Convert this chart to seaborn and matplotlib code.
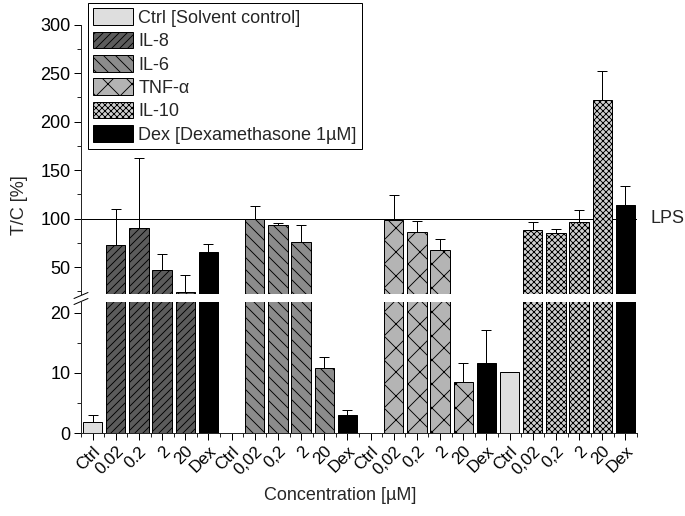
import matplotlib
matplotlib.use("Agg")
import matplotlib.pyplot as plt
import matplotlib.patches as mpatches
from matplotlib.ticker import MultipleLocator
import numpy as np
import pandas as pd
import seaborn as sns

# %%
groups = ["IL-8", "IL-6", "TNF-α", "IL-10"]
doses = ["Ctrl", "0.02", "0.2", "2", "20", "Dex"]
tick_labels = (
    ["Ctrl", "0.02", "0.2", "2", "20", "Dex"]
    + ["Ctrl", "0,02", "0,2", "2", "20", "Dex"] * 3
)

# mean T/C [%] per position (NaN = no bar)
il8_vals = [1.8, 72.5, 90.4, 46.8, 24.5, 65.3]
il6_vals = [np.nan, 99.3, 93.4, 75.6, 10.9, 2.95]
tnf_vals = [np.nan, 99.0, 86.3, 68.0, 8.5, 11.6]
il10_vals = [10.2, 88.0, 85.3, 96.2, 221.9, 113.9]

# top of the error bar
il8_err_top = [3.0, 110.0, 162.4, 63.7, 42.0, 73.3]
il6_err_top = [np.nan, 112.6, 95.9, 93.4, 12.6, 3.8]
tnf_err_top = [np.nan, 124.0, 97.0, 79.0, 11.7, 17.2]
il10_err_top = [np.nan, 96.2, 89.4, 108.9, 252.0, 133.5]

legend_labels = {
    "Ctrl": "Ctrl [Solvent control]",
    "IL-8": "IL-8",
    "IL-6": "IL-6",
    "TNF-α": "TNF-α",
    "IL-10": "IL-10",
    "Dex": "Dex [Dexamethasone 1µM]",
}
colors = {
    "Ctrl": "#dedede",
    "IL-8": "#5c5c5c",
    "IL-6": "#8c8c8c",
    "TNF-α": "#b4b4b4",
    "IL-10": "#d0d0d0",
    "Dex": "#000000",
}
hatches = {
    "Ctrl": "",
    "IL-8": "///",
    "IL-6": "\\\\",
    "TNF-α": "x",
    "IL-10": "xxxx",
    "Dex": "",
}

# %%
vals = il8_vals + il6_vals + tnf_vals + il10_vals
err_top = il8_err_top + il6_err_top + tnf_err_top + il10_err_top
keys, kinds = [], []
for g in groups:
    for d in doses:
        keys.append(f"{g}|{d}")
        kinds.append(d if d in ("Ctrl", "Dex") else g)

df = pd.DataFrame(dict(key=keys, kind=kinds, value=vals, top=err_top))
df["pos"] = np.arange(len(df))
bars = df.dropna(subset=["value"])

sns.set_style("ticks")
plt.rcParams["font.family"] = ["Liberation Sans", "DejaVu Sans"]
plt.rcParams["hatch.linewidth"] = 0.9
plt.rcParams["axes.linewidth"] = 1.0

W, H = 685, 516
fig = plt.figure(figsize=(W / 72, H / 72), dpi=72)
ax_hi = fig.add_axes([81 / W, 1 - 294 / H, 556 / W, (294 - 24.6) / H])
ax_lo = fig.add_axes([81 / W, 1 - 433 / H, 556 / W, (433 - 302) / H])

for ax in (ax_hi, ax_lo):
    sns.barplot(
        data=bars,
        x="key",
        y="value",
        hue="kind",
        order=keys,
        palette=colors,
        dodge=False,
        width=0.83,
        edgecolor="black",
        linewidth=1.0,
        errorbar=None,
        legend=False,
        zorder=2,
        ax=ax,
    )
    for p in ax.patches:
        i = int(round(p.get_x() + p.get_width() / 2))
        p.set_hatch(hatches[df["kind"][i]])
        p.set_edgecolor("black")
    e = df.dropna(subset=["top"])
    ax.errorbar(
        e["pos"],
        e["value"],
        yerr=[np.zeros(len(e)), e["top"] - e["value"]],
        fmt="none",
        ecolor="black",
        elinewidth=1.0,
        capsize=5,
        capthick=1.0,
        zorder=1,
    )
    ax.set_xlim(-0.5, 23.5)
    ax.set_xlabel("")
    ax.set_ylabel("")
    ax.tick_params(labelsize=18, width=1.0, length=7, direction="out", colors="black")
    ax.tick_params(which="minor", width=1.0, length=4)
    sns.despine(ax=ax)

ax_hi.set_ylim(22.2, 300)
ax_hi.yaxis.set_major_locator(MultipleLocator(50))
ax_hi.yaxis.set_minor_locator(MultipleLocator(25))
ax_hi.spines["bottom"].set_visible(False)
ax_hi.tick_params(axis="x", which="both", bottom=False, labelbottom=False)
ax_hi.axhline(100, color="black", lw=1.0, zorder=1)
ax_hi.text(23.5 + 0.6, 100, "LPS", fontsize=18, va="center", ha="left")

ax_lo.set_ylim(0, 21.8)
ax_lo.yaxis.set_major_locator(MultipleLocator(10))
ax_lo.yaxis.set_minor_locator(MultipleLocator(5))
ax_lo.set_xticks(range(len(keys)))
ax_lo.set_xticks(np.arange(-0.5, 24, 1.0), minor=True)
ax_lo.set_xticklabels(tick_labels, rotation=45, ha="right", rotation_mode="anchor", fontsize=17)

# axis break marks
for y0 in (298.5, 304.5):
    fig.add_artist(
        plt.Line2D([74 / W, 88 / W], [1 - y0 / H, 1 - (y0 - 6) / H], color="black", lw=1.0)
    )

fig.text(20 / W, 1 - 205 / H, "T/C [%]", rotation=90, fontsize=18, ha="center", va="center")
fig.text(340 / W, 1 - 496 / H, "Concentration [µM]", fontsize=18, ha="center", va="center")

handles = [
    mpatches.Patch(facecolor=colors[k], hatch=hatches[k], edgecolor="black", lw=1.0)
    for k in legend_labels
]
leg = fig.legend(
    handles,
    list(legend_labels.values()),
    loc="upper left",
    bbox_to_anchor=(88 / W, 1 - 3 / H),
    bbox_transform=fig.transFigure,
    fontsize=18,
    frameon=True,
    fancybox=False,
    framealpha=1,
    edgecolor="black",
    handlelength=2.2,
    handleheight=1.05,
    handletextpad=0.3,
    labelspacing=0.27,
    borderpad=0.3,
    borderaxespad=0,
)
leg.get_frame().set_linewidth(1.0)

fig.savefig("out.png", dpi=72)
